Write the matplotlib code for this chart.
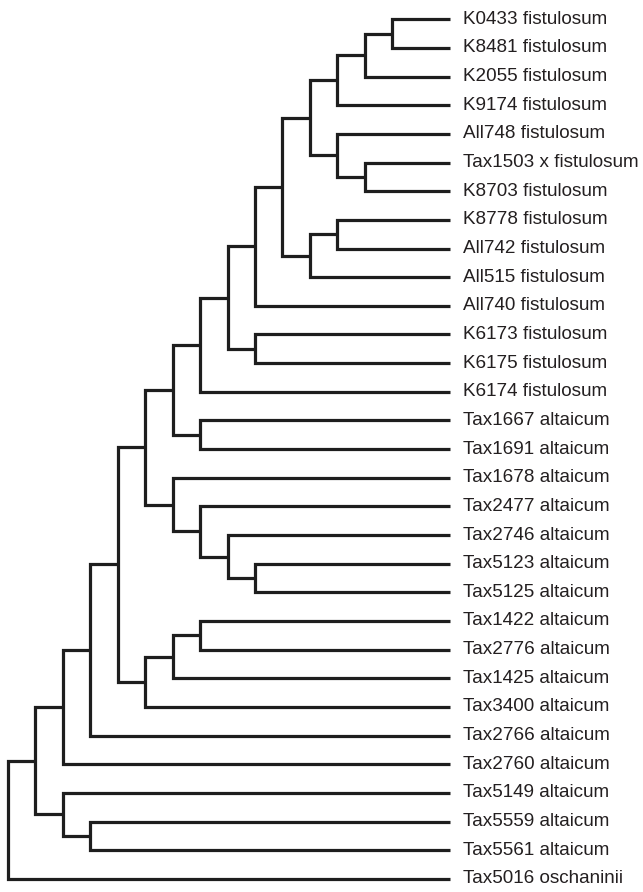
import matplotlib
matplotlib.use("Agg")
import matplotlib.pyplot as plt

# Leaf labels, top to bottom
leaf_labels = [
    "K0433 fistulosum", "K8481 fistulosum", "K2055 fistulosum", "K9174 fistulosum",
    "All748 fistulosum", "Tax1503 x fistulosum", "K8703 fistulosum", "K8778 fistulosum",
    "All742 fistulosum", "All515 fistulosum", "All740 fistulosum", "K6173 fistulosum",
    "K6175 fistulosum", "K6174 fistulosum", "Tax1667 altaicum", "Tax1691 altaicum",
    "Tax1678 altaicum", "Tax2477 altaicum", "Tax2746 altaicum", "Tax5123 altaicum",
    "Tax5125 altaicum", "Tax1422 altaicum", "Tax2776 altaicum", "Tax1425 altaicum",
    "Tax3400 altaicum", "Tax2766 altaicum", "Tax2760 altaicum", "Tax5149 altaicum",
    "Tax5559 altaicum", "Tax5561 altaicum", "Tax5016 oschaninii",
]

# Merges: (upper child id, lower child id); new node ids start at 31
merge_left = [0, 31, 32, 5, 4, 33, 7, 37, 36, 39, 11, 40, 42, 14, 43,
              19, 18, 17, 16, 45, 21, 51, 52, 50, 54, 55, 28, 27, 56, 59]
merge_right = [1, 2, 3, 6, 34, 35, 8, 9, 38, 10, 12, 41, 13, 15, 44,
               20, 46, 47, 48, 49, 22, 23, 24, 53, 25, 26, 29, 57, 58, 30]
# Node depth (cladogram level) of each merge
merge_level = [14, 13, 12, 13, 12, 11, 12, 11, 10, 9, 9, 8, 7, 7, 6,
               9, 8, 7, 6, 5, 7, 6, 5, 4, 3, 2, 3, 2, 1, 0]
leaf_tip = 16.1

n_leaves = len(leaf_labels)
fig = plt.figure(figsize=(6.43, 8.92), dpi=100)
ax = fig.add_axes([0, 0, 1, 1])

xpos = {i: leaf_tip for i in range(n_leaves)}
ypos = {i: float(i) for i in range(n_leaves)}

line_color = "#1e1e1e"
lw = 2.3
for k, (a, b, lev) in enumerate(zip(merge_left, merge_right, merge_level)):
    nid = n_leaves + k
    ya, yb = ypos[a], ypos[b]
    ax.plot([xpos[a], lev, lev, xpos[b]], [ya, ya, yb, yb],
            color=line_color, lw=lw, solid_capstyle="butt", solid_joinstyle="miter")
    xpos[nid] = lev
    ypos[nid] = (ya + yb) / 2.0

for i, lab in enumerate(leaf_labels):
    ax.text(leaf_tip + 0.46, i, lab, fontsize=13.6, family="Liberation Sans",
            color="#231f20", va="center", ha="left")

ax.set_xlim(-0.2914, 23.133)
ax.set_ylim(30.46, -0.6736)
ax.axis("off")
fig.savefig("out.png", dpi=100, facecolor="white")
